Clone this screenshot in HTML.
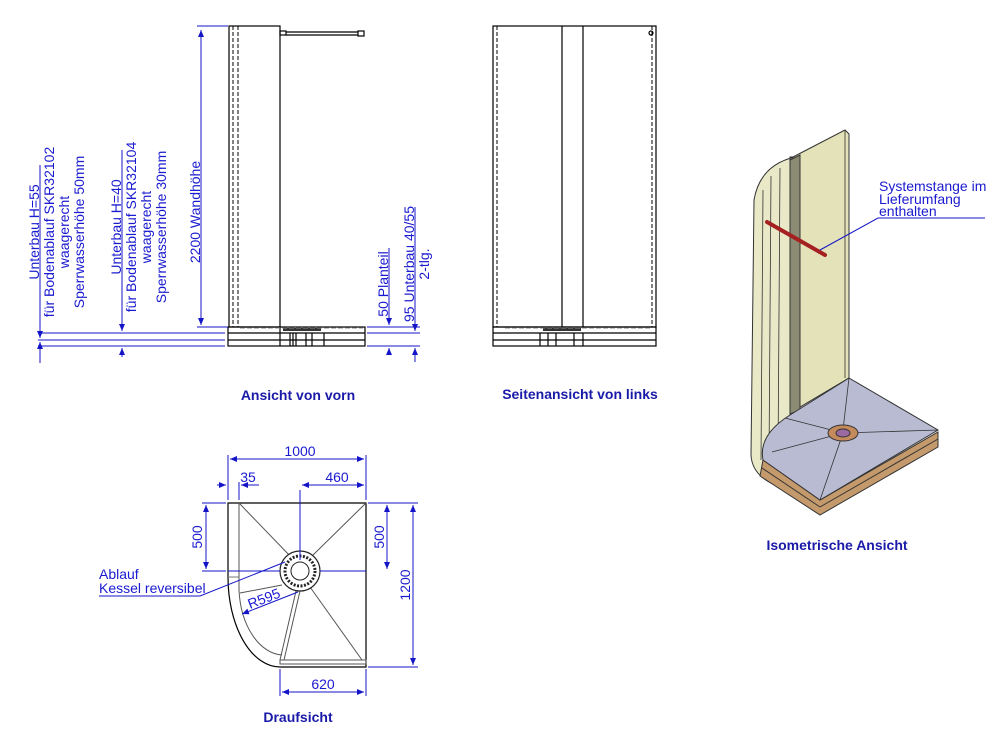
<!DOCTYPE html>
<html><head><meta charset="utf-8"><style>
html,body{margin:0;padding:0;background:#fff;}
svg{display:block;font-family:"Liberation Sans","DejaVu Sans",sans-serif;}
.b{stroke:#1515c8;stroke-width:1;fill:none}
.k{stroke:#000;stroke-width:1.2;fill:none}
.d{stroke:#000;stroke-width:1;fill:none;stroke-dasharray:4,2}
.t{fill:#1a1ad0;font-size:14px}
.h{fill:#1a1aa8;font-size:14px;font-weight:bold}
</style></head><body>
<svg width="1004" height="734" viewBox="0 0 1004 734" xmlns="http://www.w3.org/2000/svg">
<defs><marker id="a" markerWidth="8" markerHeight="8" refX="7" refY="3" orient="auto-start-reverse"><path d="M0,0 L7,3 L0,6 Z" fill="#1515c8"/></marker></defs>

<!-- FRONT VIEW -->
<rect x="229" y="26" width="51" height="301" class="k"/>
<line x1="233" y1="26" x2="233" y2="327" class="d" stroke-width="2"/>
<line x1="238" y1="26" x2="238" y2="327" class="d"/>
<rect x="280" y="31" width="6" height="4" class="k" stroke-width="1"/>
<line x1="286" y1="32" x2="358" y2="32" class="k" stroke-width="1"/>
<line x1="286" y1="35" x2="358" y2="35" class="k" stroke-width="1"/>
<rect x="358" y="31" width="6" height="5" class="k" stroke-width="1"/>
<rect x="228" y="327" width="137" height="19" class="k"/>
<line x1="228" y1="333" x2="365" y2="333" class="k" stroke-width="1"/>
<line x1="228" y1="340" x2="365" y2="340" class="k" stroke-width="1"/>
<line x1="280" y1="327" x2="280" y2="346" class="k" stroke-width="1"/>
<line x1="290" y1="333" x2="290" y2="346" class="k" stroke-width="1.5"/>
<line x1="293" y1="333" x2="293" y2="346" class="k" stroke-width="1"/>
<line x1="296" y1="333" x2="296" y2="346" class="k" stroke-width="1"/>
<line x1="306" y1="333" x2="306" y2="346" class="k" stroke-width="2"/>
<line x1="312" y1="333" x2="312" y2="346" class="k" stroke-width="2"/>
<line x1="324" y1="333" x2="324" y2="346" class="k" stroke-width="1"/>
<rect x="283" y="328" width="38" height="3" fill="#333"/>
<line x1="240" y1="328" x2="363" y2="328" stroke="#888" stroke-dasharray="5,2"/>

<!-- front dims -->
<line x1="197" y1="26" x2="228" y2="26" class="b"/>
<line x1="197" y1="327" x2="228" y2="327" class="b"/>
<line x1="201" y1="30" x2="201" y2="325" class="b" marker-start="url(#a)" marker-end="url(#a)"/>
<line x1="38" y1="333" x2="225" y2="333" class="b"/>
<line x1="38" y1="340" x2="225" y2="340" class="b"/>
<line x1="38" y1="346" x2="225" y2="346" class="b"/>
<line x1="40" y1="165" x2="40" y2="338" class="b" marker-end="url(#a)"/>
<line x1="40" y1="342" x2="40" y2="363" class="b" marker-start="url(#a)"/>
<line x1="122" y1="150" x2="122" y2="331" class="b" marker-end="url(#a)"/>
<line x1="122" y1="348" x2="122" y2="357" class="b" marker-start="url(#a)"/>
<line x1="367" y1="327" x2="420" y2="327" class="b"/>
<line x1="367" y1="333" x2="420" y2="333" class="b"/>
<line x1="367" y1="346" x2="420" y2="346" class="b"/>
<line x1="389" y1="248" x2="389" y2="325" class="b" marker-end="url(#a)"/>
<line x1="389" y1="348" x2="389" y2="352" class="b" marker-start="url(#a)"/>
<line x1="415" y1="207" x2="415" y2="331" class="b" marker-end="url(#a)"/>
<line x1="415" y1="348" x2="415" y2="362" class="b" marker-start="url(#a)"/>

<g class="t" text-anchor="middle">
<text transform="translate(39,232) rotate(-90)">Unterbau H=55</text>
<text transform="translate(54,232) rotate(-90)">für Bodenablauf SKR32102</text>
<text transform="translate(69,232) rotate(-90)">waagerecht</text>
<text transform="translate(84,232) rotate(-90)">Sperrwasserhöhe 50mm</text>
<text transform="translate(121,227) rotate(-90)">Unterbau H=40</text>
<text transform="translate(136,227) rotate(-90)">für Bodenablauf SKR32104</text>
<text transform="translate(151,227) rotate(-90)">waagerecht</text>
<text transform="translate(166,227) rotate(-90)">Sperrwasserhöhe 30mm</text>
<text transform="translate(200,212) rotate(-90)">2200 Wandhöhe</text>
<text transform="translate(388,284) rotate(-90)">50 Planteil</text>
<text transform="translate(414,264) rotate(-90)">95 Unterbau 40/55</text>
<text transform="translate(429,264) rotate(-90)">2-tlg.</text>
</g>

<!-- SIDE VIEW -->
<rect x="493" y="26" width="163" height="301" class="k"/>
<line x1="562" y1="26" x2="562" y2="327" class="k" stroke-width="1"/>
<line x1="583" y1="26" x2="583" y2="327" class="k" stroke-width="1"/>
<line x1="497" y1="26" x2="497" y2="327" class="d"/>
<line x1="652" y1="26" x2="652" y2="327" class="d"/>
<circle cx="651" cy="33" r="2" class="k" stroke-width="1"/>
<rect x="493" y="327" width="163" height="19" class="k"/>
<line x1="493" y1="333" x2="656" y2="333" class="k" stroke-width="1"/>
<line x1="493" y1="340" x2="656" y2="340" class="k" stroke-width="1"/>
<line x1="540" y1="333" x2="540" y2="346" class="k" stroke-width="2"/>
<line x1="548" y1="333" x2="548" y2="346" class="k" stroke-width="2.5"/>
<line x1="556" y1="333" x2="556" y2="346" class="k" stroke-width="1"/>
<line x1="574" y1="333" x2="574" y2="346" class="k" stroke-width="1"/>
<line x1="583" y1="333" x2="583" y2="346" class="k" stroke-width="2"/>
<rect x="543" y="328" width="38" height="3" fill="#333"/>
<line x1="505" y1="328" x2="650" y2="328" stroke="#888" stroke-dasharray="5,2"/>

<!-- TOP VIEW -->
<path d="M228,503 L366,503 L366,667 L280,667 A52,90 0 0 1 228,577 Z" class="k" stroke="#555"/>
<path d="M239,503 L239,590 A45,70 0 0 0 282,655" fill="none" stroke="#555"/>
<line x1="228" y1="577" x2="239" y2="577" stroke="#777"/>
<rect x="280" y="660" width="86" height="4" fill="none" stroke="#555"/>
<line x1="239" y1="503" x2="292" y2="558" stroke="#555"/>
<line x1="366" y1="503" x2="310" y2="558" stroke="#555"/>
<line x1="300" y1="591" x2="284" y2="660" stroke="#555"/>
<line x1="296" y1="591" x2="280" y2="660" stroke="#555"/>
<line x1="310" y1="587" x2="362" y2="660" stroke="#555"/>
<line x1="240" y1="593" x2="282" y2="585" stroke="#555"/>
<circle cx="300" cy="571" r="20" fill="#fff" stroke="#222" stroke-width="1.2"/>
<circle cx="300" cy="571" r="15" fill="none" stroke="#222" stroke-width="3" stroke-dasharray="2,1.5"/>
<circle cx="300" cy="571" r="9" fill="#fff" stroke="#222"/>
<line x1="300" y1="490" x2="300" y2="560" class="b"/>
<line x1="320" y1="571" x2="366" y2="571" class="b"/>
<line x1="228" y1="571" x2="280" y2="571" class="b" stroke="#777"/>
<!-- dims -->
<line x1="228" y1="455" x2="228" y2="500" class="b"/>
<line x1="366" y1="455" x2="366" y2="500" class="b"/>
<line x1="230" y1="459" x2="364" y2="459" class="b" marker-start="url(#a)" marker-end="url(#a)"/>
<text x="300" y="456" class="t" text-anchor="middle">1000</text>
<line x1="239" y1="482" x2="239" y2="500" class="b"/>
<line x1="217" y1="485" x2="226" y2="485" class="b" marker-end="url(#a)"/>
<line x1="259" y1="485" x2="241" y2="485" class="b" marker-end="url(#a)"/>
<text x="248" y="482" class="t" text-anchor="middle">35</text>
<line x1="302" y1="485" x2="364" y2="485" class="b" marker-start="url(#a)" marker-end="url(#a)"/>
<text x="337" y="482" class="t" text-anchor="middle">460</text>
<line x1="202" y1="503" x2="226" y2="503" class="b"/>
<line x1="202" y1="571" x2="226" y2="571" class="b"/>
<line x1="206" y1="505" x2="206" y2="569" class="b" marker-start="url(#a)" marker-end="url(#a)"/>
<text transform="translate(202,537) rotate(-90)" class="t" text-anchor="middle">500</text>
<line x1="368" y1="503" x2="418" y2="503" class="b"/>
<line x1="368" y1="667" x2="418" y2="667" class="b"/>
<line x1="387" y1="505" x2="387" y2="569" class="b" marker-start="url(#a)" marker-end="url(#a)"/>
<text transform="translate(384,537) rotate(-90)" class="t" text-anchor="middle">500</text>
<line x1="413" y1="505" x2="413" y2="665" class="b" marker-start="url(#a)" marker-end="url(#a)"/>
<text transform="translate(410,585) rotate(-90)" class="t" text-anchor="middle">1200</text>
<line x1="280" y1="669" x2="280" y2="696" class="b"/>
<line x1="366" y1="669" x2="366" y2="696" class="b"/>
<line x1="282" y1="692" x2="364" y2="692" class="b" marker-start="url(#a)" marker-end="url(#a)"/>
<text x="323" y="689" class="t" text-anchor="middle">620</text>
<line x1="242" y1="614" x2="298" y2="592" class="b" marker-start="url(#a)"/>
<text transform="translate(250,609) rotate(-21)" class="t">R595</text>
<text x="99" y="579" class="t">Ablauf</text>
<text x="99" y="593" class="t">Kessel reversibel</text>
<polyline points="99,596 200,596 285,562" class="b"/>

<!-- ISOMETRIC -->
<path d="M795,157 Q760,165 754,200 L751,455 Q752,475 775,485 L790,470 L790,157 Z" fill="#e9e9c8" stroke="#333"/>
<line x1="763" y1="190" x2="761" y2="460" stroke="#333" stroke-width="0.8"/>
<line x1="771" y1="176" x2="769" y2="460" stroke="#333" stroke-width="0.8"/>
<line x1="780" y1="168" x2="778" y2="460" stroke="#333" stroke-width="0.8"/>
<polygon points="793,157 845,130 849,134 849,378 800,407 793,403" fill="#e3e2b8" stroke="#333"/>
<line x1="845" y1="130" x2="845" y2="378" stroke="#333" stroke-width="0.8"/>
<polygon points="790,160 800,155 800,410 790,414" fill="#8c8c74" stroke="#333"/>
<polygon points="763,460 820,500 938,432 938,447 820,515 760,476" fill="#c49a6c" stroke="#333"/>
<line x1="762" y1="468" x2="820" y2="507" stroke="#333"/>
<line x1="820" y1="507" x2="938" y2="439" stroke="#333"/>
<path d="M849,378 L938,430 L820,500 L763,460 Q758,435 790,415 Z" fill="#b9bbd3" stroke="#333"/>
<line x1="849" y1="378" x2="843" y2="430" stroke="#333" stroke-width="0.8"/>
<line x1="843" y1="433" x2="938" y2="430" stroke="#333" stroke-width="0.8"/>
<line x1="843" y1="433" x2="820" y2="500" stroke="#333" stroke-width="0.8"/>
<line x1="843" y1="433" x2="772" y2="452" stroke="#333" stroke-width="0.8"/>
<line x1="843" y1="433" x2="785" y2="418" stroke="#333" stroke-width="0.8"/>
<ellipse cx="843" cy="433" rx="15" ry="8" fill="#c48a5c" stroke="#333"/>
<ellipse cx="843" cy="433" rx="7" ry="4" fill="#9a6aa0" stroke="#333"/>
<line x1="767" y1="222" x2="825" y2="255" stroke="#a52020" stroke-width="4" stroke-linecap="round"/>
<polyline points="820,250 878,218 985,218" class="b"/>
<text x="879" y="191" class="t">Systemstange im</text>
<text x="879" y="204" class="t">Lieferumfang</text>
<text x="879" y="216" class="t">enthalten</text>

<!-- titles -->
<text x="298" y="400" class="h" text-anchor="middle">Ansicht von vorn</text>
<text x="580" y="399" class="h" text-anchor="middle">Seitenansicht von links</text>
<text x="837" y="550" class="h" text-anchor="middle">Isometrische Ansicht</text>
<text x="298" y="722" class="h" text-anchor="middle">Draufsicht</text>
</svg>
</body></html>
